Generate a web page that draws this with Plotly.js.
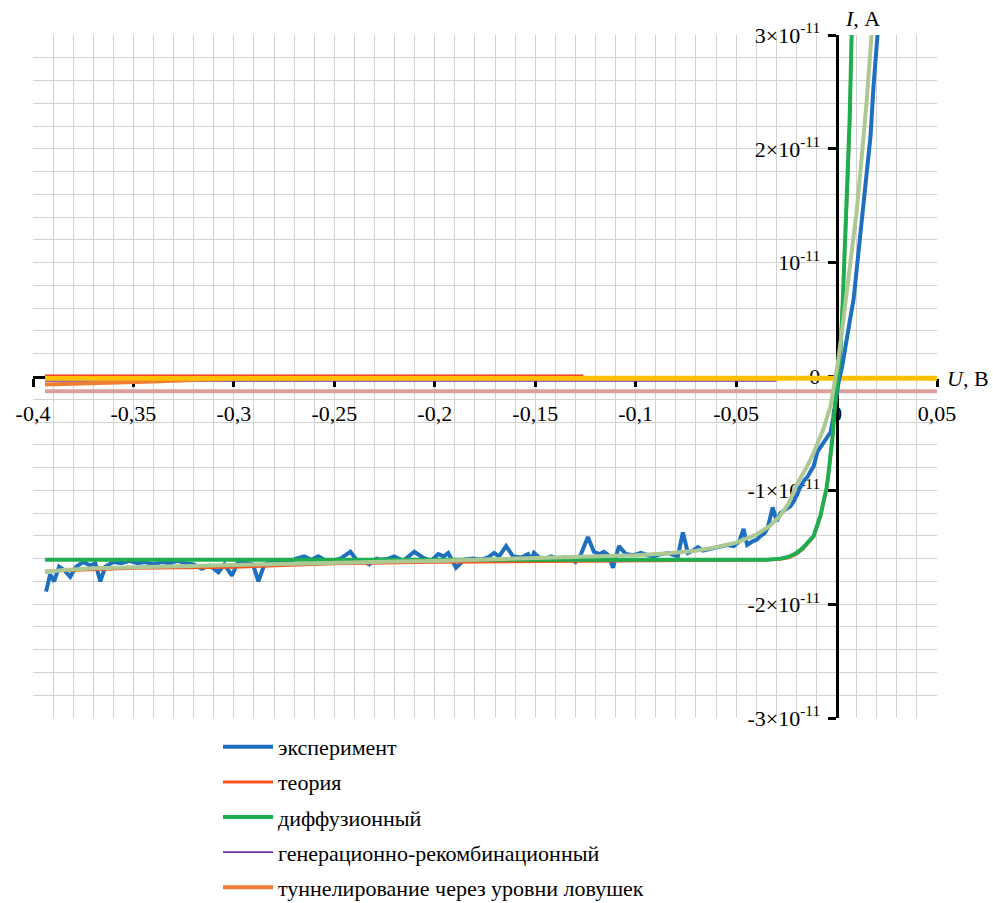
<!DOCTYPE html>
<html>
<head>
<meta charset="utf-8">
<script src="https://cdn.plot.ly/plotly-3.0.1.min.js"></script>
<style>
html,body{margin:0;padding:0;background:#fff;}
</style>
</head>
<body>
<div id="chart" style="width:993px;height:903px;"></div>
<script>
// Current values are in units of 1e-11 A; voltage in V
const xTickVals = [-0.4,-0.35,-0.3,-0.25,-0.2,-0.15,-0.1,-0.05,0,0.05];
const xTickText = ['-0,4','-0,35','-0,3','-0,25','-0,2','-0,15','-0,1','-0,05','0','0,05'];
const yTickVals = [-3,-2,-1,0,1,2,3];
const yTickText = ['-3×10<sup>-11</sup>','-2×10<sup>-11</sup>','-1×10<sup>-11</sup>','0','10<sup>-11</sup>','2×10<sup>-11</sup>','3×10<sup>-11</sup>'];

const seriesNames = ['эксперимент','теория','диффузионный','генерационно-рекомбинационный','туннелирование через уровни ловушек'];

const expU = [-0.3935,-0.3915,-0.3895,-0.3870,-0.3845,-0.3815,-0.3785,-0.3750,-0.3715,-0.3690,-0.3665,-0.3640,-0.3600,-0.3560,-0.3520,-0.3480,-0.3440,-0.3400,-0.3360,-0.3320,-0.3280,-0.3240,-0.3200,-0.3160,-0.3120,-0.3077,-0.3047,-0.3010,-0.2977,-0.2940,-0.2905,-0.2878,-0.2848,-0.2810,-0.2770,-0.2730,-0.2690,-0.2650,-0.2615,-0.2580,-0.2550,-0.2515,-0.2470,-0.2420,-0.2390,-0.2350,-0.2326,-0.2290,-0.2266,-0.2230,-0.2202,-0.2157,-0.2130,-0.2102,-0.2060,-0.2018,-0.1983,-0.1955,-0.1933,-0.1894,-0.1854,-0.1810,-0.1770,-0.1735,-0.1705,-0.1680,-0.1645,-0.1610,-0.1570,-0.1536,-0.1520,-0.1506,-0.1480,-0.1450,-0.1420,-0.1390,-0.1357,-0.1330,-0.1300,-0.1272,-0.1238,-0.1208,-0.1180,-0.1158,-0.1135,-0.1113,-0.1083,-0.1049,-0.1010,-0.0974,-0.0940,-0.0910,-0.0875,-0.0840,-0.0810,-0.0790,-0.0765,-0.0740,-0.0715,-0.0690,-0.0665,-0.0640,-0.0610,-0.0577,-0.0545,-0.0512,-0.0485,-0.0463,-0.0445,-0.0420,-0.0395,-0.0378,-0.0360,-0.0343,-0.0318,-0.0298,-0.0279,-0.0255,-0.0230,-0.0214,-0.0195,-0.0180,-0.0160,-0.0144,-0.0125,-0.0114,-0.0095,-0.0080,-0.0065,-0.0045,-0.0030,-0.0015,-0.0005,0.0010,0.0028,0.0053,0.0070,0.0085,0.0103,0.0120,0.0135,0.0153,0.0169,0.0184,0.0202,0.0206];
const expI = [-1.89,-1.74,-1.80,-1.67,-1.70,-1.76,-1.67,-1.63,-1.66,-1.64,-1.80,-1.67,-1.63,-1.64,-1.62,-1.64,-1.63,-1.65,-1.63,-1.64,-1.62,-1.64,-1.65,-1.69,-1.66,-1.72,-1.65,-1.75,-1.62,-1.64,-1.65,-1.80,-1.65,-1.63,-1.62,-1.63,-1.60,-1.58,-1.61,-1.58,-1.61,-1.62,-1.60,-1.54,-1.61,-1.63,-1.65,-1.60,-1.61,-1.60,-1.58,-1.62,-1.58,-1.54,-1.59,-1.62,-1.56,-1.58,-1.55,-1.68,-1.61,-1.60,-1.61,-1.59,-1.55,-1.58,-1.49,-1.58,-1.59,-1.56,-1.61,-1.55,-1.59,-1.60,-1.58,-1.60,-1.59,-1.60,-1.63,-1.56,-1.41,-1.54,-1.56,-1.54,-1.57,-1.68,-1.49,-1.56,-1.57,-1.55,-1.57,-1.58,-1.56,-1.55,-1.57,-1.58,-1.37,-1.55,-1.53,-1.50,-1.53,-1.52,-1.51,-1.50,-1.48,-1.49,-1.45,-1.34,-1.48,-1.45,-1.43,-1.40,-1.38,-1.33,-1.15,-1.27,-1.20,-1.17,-1.14,-1.10,-1.02,-0.97,-0.91,-0.88,-0.82,-0.79,-0.66,-0.62,-0.58,-0.54,-0.49,-0.35,-0.20,-0.05,0.09,0.38,0.53,0.68,0.97,1.26,1.52,1.82,2.11,2.55,2.96,3.05];

const theoryU = [-0.394,-0.37,-0.35,-0.30,-0.25,-0.20,-0.15,-0.10,-0.06,-0.04,-0.035,-0.028,-0.024,-0.020,-0.017,-0.0144,-0.0114,-0.0095,-0.008,-0.0065,-0.005,-0.004,-0.003,-0.002,-0.001,0.0003,0.002,0.003,0.004,0.005,0.0058,0.0065,0.007,0.0075];
const theoryI = [-1.71,-1.695,-1.685,-1.675,-1.645,-1.632,-1.625,-1.62,-1.617,-1.614,-1.613,-1.605,-1.592,-1.56,-1.52,-1.47,-1.41,-1.31,-1.23,-1.11,-0.99,-0.86,-0.71,-0.54,-0.31,-0.04,0.23,0.61,1.04,1.44,1.81,2.24,2.61,3.0];

const diffU = [-0.394,-0.30,-0.20,-0.10,-0.05,-0.035,-0.028,-0.024,-0.020,-0.017,-0.0144,-0.0114,-0.0095,-0.008,-0.0065,-0.005,-0.004,-0.003,-0.002,-0.001,0.0003,0.002,0.003,0.004,0.005,0.0058,0.0065,0.007,0.0075];
const diffI = [-1.61,-1.61,-1.612,-1.613,-1.613,-1.61,-1.60,-1.585,-1.55,-1.51,-1.46,-1.40,-1.30,-1.22,-1.10,-0.98,-0.85,-0.70,-0.53,-0.30,-0.03,0.24,0.62,1.05,1.45,1.82,2.25,2.62,3.0];

const genRecU = [-0.394,-0.30,-0.20,-0.10,-0.03];
const genRecI = [-0.04,-0.04,-0.04,-0.04,-0.04];

const tunnelU = [-0.394,-0.37,-0.34,-0.32,-0.30,-0.25,-0.15,-0.03];
const tunnelI = [-0.07,-0.06,-0.045,-0.03,-0.02,-0.015,-0.015,-0.015];

const fitU = [-0.394,-0.385,-0.370,-0.350,-0.330,-0.300,-0.270,-0.250,-0.220,-0.200,-0.170,-0.150,-0.120,-0.100,-0.085,-0.070,-0.060,-0.050,-0.040,-0.033,-0.028,-0.024,-0.0195,-0.015,-0.0114,-0.0065,-0.003,-0.001,0.0005,0.002,0.004,0.007,0.010,0.0129,0.015,0.0174];
const fitI = [-1.72,-1.70,-1.685,-1.675,-1.665,-1.655,-1.645,-1.635,-1.625,-1.62,-1.605,-1.595,-1.585,-1.57,-1.555,-1.53,-1.50,-1.46,-1.39,-1.31,-1.22,-1.12,-0.94,-0.80,-0.67,-0.46,-0.26,-0.08,0.10,0.30,0.60,1.00,1.45,2.00,2.42,3.0];

const yellowU = [-0.394,-0.2,0,0.05];
const yellowI = [-0.015,-0.015,-0.015,-0.015];
const pinkU = [-0.394,-0.2,0,0.05];
const pinkI = [-0.13,-0.13,-0.13,-0.13];
const redU = [-0.394,-0.25,-0.126];
const redI = [0.008,0.008,0.008];

function tr(x,y,color,width,name,rank,show){
  return {x:x,y:y,type:'scatter',mode:'lines',line:{color:color,width:width},
    name:name||'',showlegend:!!show,legendrank:rank||1000,legendgroup:'g'+(rank||0)+(name||color),hoverinfo:'skip'};
}

const data = [
  tr(pinkU,pinkI,'#d9a0a0',4,'',0,false),
  tr(redU,redI,'#ee1c1c',2,'',0,false),
  tr(genRecU,genRecI,'#7030a0',1.6,seriesNames[3],4,true),
  tr(tunnelU,tunnelI,'#ef7d32',4,seriesNames[4],5,true),
  tr(yellowU,yellowI,'#ffc000',5,'',0,false),
  tr(expU,expI,'#1f6fc0',4,seriesNames[0],1,true),
  tr(theoryU,theoryI,'#f5541f',3,seriesNames[1],2,true),
  tr(diffU,diffI,'#1fae4f',4,seriesNames[2],3,true),
  tr(fitU,fitI,'#adc993',4,'',0,false)
];

const gridColor = '#d2d2d2';
const serif = 'Liberation Serif';

const layout = {
  width:993,height:903,
  margin:{l:33,r:56,t:35,b:185,autoexpand:false},
  paper_bgcolor:'#fff',plot_bgcolor:'#fff',
  showlegend:true,
  font:{family:serif,color:'#000',size:20},
  xaxis:{
    range:[-0.4,0.05],anchor:'free',position:0.5,
    showline:true,linecolor:'#000',linewidth:3,
    ticks:'outside',ticklen:8,tickwidth:3,tickcolor:'#000',
    tickmode:'array',tickvals:xTickVals,ticktext:xTickText,
    tickfont:{family:serif,size:22,color:'#000'},
    ticklabelstandoff:8,
    showgrid:true,gridcolor:gridColor,gridwidth:1,zeroline:false,
    minor:{tickmode:'linear',tick0:0,dtick:0.01,showgrid:true,gridcolor:gridColor,gridwidth:1,ticks:''},
    layer:'below traces',fixedrange:true,automargin:false
  },
  yaxis:{
    range:[-3,3],anchor:'free',position:0.4/0.45,side:'left',
    showline:true,linecolor:'#000',linewidth:3,
    ticks:'outside',ticklen:8,tickwidth:3,tickcolor:'#000',
    tickmode:'array',tickvals:yTickVals,ticktext:yTickText,
    tickfont:{family:serif,size:22,color:'#000'},
    ticklabelstandoff:3,
    showgrid:true,gridcolor:gridColor,gridwidth:1,zeroline:false,
    minor:{tickmode:'linear',tick0:0,dtick:0.2,showgrid:true,gridcolor:gridColor,gridwidth:1,ticks:''},
    layer:'below traces',fixedrange:true,automargin:false
  },
  legend:{
    x:(218-33)/904,xanchor:'left',y:-0.0117,yanchor:'top',
    orientation:'v',font:{family:serif,size:22,color:'#000'},
    bgcolor:'rgba(0,0,0,0)',borderwidth:0,
    tracegroupgap:3.5,itemwidth:50,traceorder:'grouped'
  },
  annotations:[
    {xref:'paper',yref:'paper',x:(843-33)/904,y:1,xanchor:'left',yanchor:'bottom',yshift:2,
     text:'<i>I</i>, А',showarrow:false,font:{family:serif,size:22,color:'#000'}},
    {xref:'paper',yref:'paper',x:(945-33)/904,y:0.5,xanchor:'left',yanchor:'middle',yshift:-2,
     text:'<i>U</i>, В',showarrow:false,font:{family:serif,size:22,color:'#000'}}
  ]
};

Plotly.newPlot('chart',data,layout,{staticPlot:true,displayModeBar:false});
</script>
</body>
</html>
